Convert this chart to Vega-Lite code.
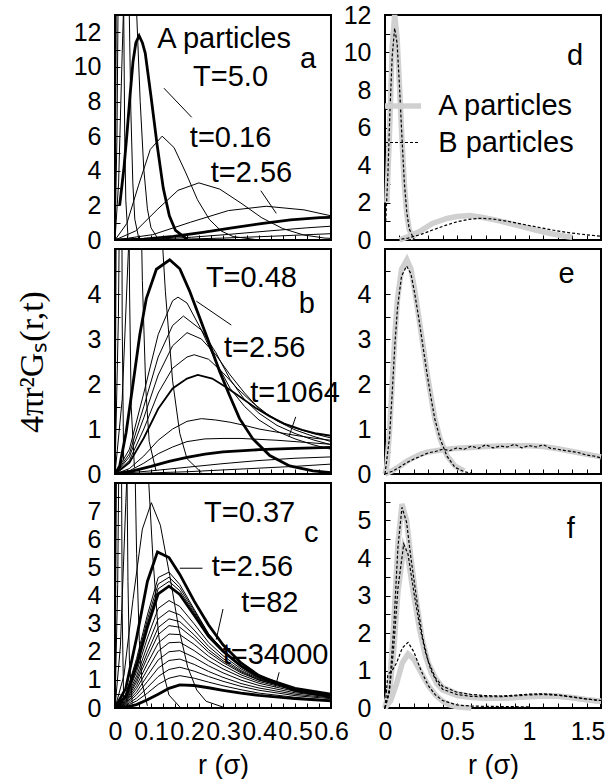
{
"$schema":"https://vega.github.io/schema/vega-lite/v6.json",
"background":"white",
"padding":{"left":14,"top":2,"right":2,"bottom":2},
"bounds":"flush",
"columns":2,
"spacing":{"row":9,"column":54},
"config":{
 "view":{"stroke":"black","strokeWidth":2},
 "font":"Liberation Sans",
 "axis":{"domain":false,"grid":false,"ticks":true,"tickColor":"black","tickSize":-5,"tickWidth":1,"labelFont":"Liberation Sans","labelFontSize":25,"labelColor":"black","labelOverlap":false,"labelFlush":false,"labelBound":false,"titleFont":"Liberation Sans","titleFontSize":27,"titleFontWeight":"normal","titleColor":"black"},
 "axisX":{"labelPadding":16},
 "axisY":{"labelPadding":19}
},
"datasets":{
"L":[
{"p":"a","c":"a1","k":"n","r":0,"y":0},{"p":"a","c":"a1","k":"n","r":0.003,"y":11},{"p":"a","c":"a1","k":"n","r":0.006,"y":36.5},{"p":"a","c":"a1","k":"n","r":0.009,"y":60.1},{"p":"a","c":"a1","k":"n","r":0.012,"y":69},{"p":"a","c":"a1","k":"n","r":0.015,"y":61.4},{"p":"a","c":"a1","k":"n","r":0.018,"y":44.5},{"p":"a","c":"a1","k":"n","r":0.021,"y":26.8},{"p":"a","c":"a1","k":"n","r":0.024,"y":13.7},{"p":"a","c":"a1","k":"n","r":0.027,"y":6},{"p":"a","c":"a1","k":"n","r":0.03,"y":2.3},{"p":"a","c":"a1","k":"n","r":0.036,"y":0.2},
{"p":"a","c":"a2","k":"n","r":0,"y":0},{"p":"a","c":"a2","k":"n","r":0.0055,"y":6},{"p":"a","c":"a2","k":"n","r":0.011,"y":19.9},{"p":"a","c":"a2","k":"n","r":0.0165,"y":32.8},{"p":"a","c":"a2","k":"n","r":0.022,"y":37.7},{"p":"a","c":"a2","k":"n","r":0.0275,"y":33.6},{"p":"a","c":"a2","k":"n","r":0.033,"y":24.3},{"p":"a","c":"a2","k":"n","r":0.0385,"y":14.7},{"p":"a","c":"a2","k":"n","r":0.044,"y":7.5},{"p":"a","c":"a2","k":"n","r":0.0495,"y":3.3},{"p":"a","c":"a2","k":"n","r":0.055,"y":1.2},{"p":"a","c":"a2","k":"n","r":0.066,"y":0.1},
{"p":"a","c":"a3","k":"n","r":0,"y":0},{"p":"a","c":"a3","k":"n","r":0.01,"y":3.3},{"p":"a","c":"a3","k":"n","r":0.02,"y":10.8},{"p":"a","c":"a3","k":"n","r":0.03,"y":17.9},{"p":"a","c":"a3","k":"n","r":0.04,"y":20.5},{"p":"a","c":"a3","k":"n","r":0.05,"y":18.2},{"p":"a","c":"a3","k":"n","r":0.06,"y":13.2},{"p":"a","c":"a3","k":"n","r":0.07,"y":8},{"p":"a","c":"a3","k":"n","r":0.08,"y":4.1},{"p":"a","c":"a3","k":"n","r":0.09,"y":1.8},{"p":"a","c":"a3","k":"n","r":0.1,"y":0.7},{"p":"a","c":"a3","k":"n","r":0.12,"y":0.06},
{"p":"a","c":"a4","k":"t","r":0.013,"y":2},{"p":"a","c":"a4","k":"t","r":0.025,"y":4.2},{"p":"a","c":"a4","k":"t","r":0.0335,"y":6.2},{"p":"a","c":"a4","k":"t","r":0.042,"y":8.4},{"p":"a","c":"a4","k":"t","r":0.05,"y":10.3},{"p":"a","c":"a4","k":"t","r":0.058,"y":11.4},{"p":"a","c":"a4","k":"t","r":0.067,"y":11.8},{"p":"a","c":"a4","k":"t","r":0.076,"y":11.4},{"p":"a","c":"a4","k":"t","r":0.084,"y":10.8},{"p":"a","c":"a4","k":"t","r":0.1,"y":8.3},{"p":"a","c":"a4","k":"t","r":0.117,"y":5.5},{"p":"a","c":"a4","k":"t","r":0.134,"y":3},{"p":"a","c":"a4","k":"t","r":0.151,"y":1.4},{"p":"a","c":"a4","k":"t","r":0.168,"y":0.55},{"p":"a","c":"a4","k":"t","r":0.2,"y":0.05},
{"p":"a","c":"a5","k":"n","r":0,"y":0},{"p":"a","c":"a5","k":"n","r":0.033,"y":0.96},{"p":"a","c":"a5","k":"n","r":0.0655,"y":3.17},{"p":"a","c":"a5","k":"n","r":0.098,"y":5.23},{"p":"a","c":"a5","k":"n","r":0.131,"y":6},{"p":"a","c":"a5","k":"n","r":0.164,"y":5.34},{"p":"a","c":"a5","k":"n","r":0.197,"y":3.87},{"p":"a","c":"a5","k":"n","r":0.229,"y":2.33},{"p":"a","c":"a5","k":"n","r":0.262,"y":1.19},{"p":"a","c":"a5","k":"n","r":0.295,"y":0.52},{"p":"a","c":"a5","k":"n","r":0.328,"y":0.2},{"p":"a","c":"a5","k":"n","r":0.393,"y":0.02},
{"p":"a","c":"a6","k":"n","r":0,"y":0},{"p":"a","c":"a6","k":"n","r":0.058,"y":0.53},{"p":"a","c":"a6","k":"n","r":0.117,"y":1.75},{"p":"a","c":"a6","k":"n","r":0.175,"y":2.87},{"p":"a","c":"a6","k":"n","r":0.233,"y":3.3},{"p":"a","c":"a6","k":"n","r":0.291,"y":2.94},{"p":"a","c":"a6","k":"n","r":0.35,"y":2.13},{"p":"a","c":"a6","k":"n","r":0.408,"y":1.28},{"p":"a","c":"a6","k":"n","r":0.466,"y":0.66},{"p":"a","c":"a6","k":"n","r":0.524,"y":0.29},{"p":"a","c":"a6","k":"n","r":0.583,"y":0.11},{"p":"a","c":"a6","k":"n","r":0.7,"y":0.01},
{"p":"a","c":"a7","k":"n","r":0,"y":0},{"p":"a","c":"a7","k":"n","r":0.105,"y":0.31},{"p":"a","c":"a7","k":"n","r":0.21,"y":1.03},{"p":"a","c":"a7","k":"n","r":0.315,"y":1.7},{"p":"a","c":"a7","k":"n","r":0.42,"y":1.95},{"p":"a","c":"a7","k":"n","r":0.525,"y":1.74},{"p":"a","c":"a7","k":"n","r":0.63,"y":1.26},
{"p":"a","c":"a8","k":"t","r":0,"y":0},{"p":"a","c":"a8","k":"t","r":0.08,"y":0.056},{"p":"a","c":"a8","k":"t","r":0.1625,"y":0.21},{"p":"a","c":"a8","k":"t","r":0.244,"y":0.44},{"p":"a","c":"a8","k":"t","r":0.325,"y":0.7},{"p":"a","c":"a8","k":"t","r":0.406,"y":0.95},{"p":"a","c":"a8","k":"t","r":0.4875,"y":1.16},{"p":"a","c":"a8","k":"t","r":0.569,"y":1.29},{"p":"a","c":"a8","k":"t","r":0.65,"y":1.33},
{"p":"a","c":"a9","k":"n","r":0,"y":0},{"p":"a","c":"a9","k":"n","r":0.106,"y":0.04},{"p":"a","c":"a9","k":"n","r":0.2125,"y":0.16},{"p":"a","c":"a9","k":"n","r":0.319,"y":0.33},{"p":"a","c":"a9","k":"n","r":0.425,"y":0.52},{"p":"a","c":"a9","k":"n","r":0.531,"y":0.7},{"p":"a","c":"a9","k":"n","r":0.6375,"y":0.85},
{"p":"a","c":"a10","k":"n","r":0,"y":0},{"p":"a","c":"a10","k":"n","r":0.15,"y":0.03},{"p":"a","c":"a10","k":"n","r":0.3,"y":0.11},{"p":"a","c":"a10","k":"n","r":0.45,"y":0.23},{"p":"a","c":"a10","k":"n","r":0.6,"y":0.365},{"p":"a","c":"a10","k":"n","r":0.75,"y":0.5},

{"p":"b","c":"b1","k":"n","r":0,"y":0},{"p":"b","c":"b1","k":"n","r":0.002,"y":16.6},{"p":"b","c":"b1","k":"n","r":0.004,"y":55},{"p":"b","c":"b1","k":"n","r":0.006,"y":90.6},{"p":"b","c":"b1","k":"n","r":0.008,"y":104},{"p":"b","c":"b1","k":"n","r":0.01,"y":92.6},{"p":"b","c":"b1","k":"n","r":0.012,"y":67.1},{"p":"b","c":"b1","k":"n","r":0.014,"y":40.5},{"p":"b","c":"b1","k":"n","r":0.016,"y":20.7},{"p":"b","c":"b1","k":"n","r":0.018,"y":9},{"p":"b","c":"b1","k":"n","r":0.02,"y":3.4},{"p":"b","c":"b1","k":"n","r":0.024,"y":0.3},
{"p":"b","c":"b2","k":"n","r":0,"y":0},{"p":"b","c":"b2","k":"n","r":0.0045,"y":7.4},{"p":"b","c":"b2","k":"n","r":0.009,"y":24.3},{"p":"b","c":"b2","k":"n","r":0.0135,"y":40.1},{"p":"b","c":"b2","k":"n","r":0.018,"y":46},{"p":"b","c":"b2","k":"n","r":0.0225,"y":40.9},{"p":"b","c":"b2","k":"n","r":0.027,"y":29.7},{"p":"b","c":"b2","k":"n","r":0.0315,"y":17.9},{"p":"b","c":"b2","k":"n","r":0.036,"y":9.2},{"p":"b","c":"b2","k":"n","r":0.0405,"y":4},{"p":"b","c":"b2","k":"n","r":0.045,"y":1.5},{"p":"b","c":"b2","k":"n","r":0.054,"y":0.14},
{"p":"b","c":"b3","k":"n","r":0,"y":0},{"p":"b","c":"b3","k":"n","r":0.0095,"y":3.5},{"p":"b","c":"b3","k":"n","r":0.019,"y":11.5},{"p":"b","c":"b3","k":"n","r":0.0285,"y":19},{"p":"b","c":"b3","k":"n","r":0.038,"y":21.8},{"p":"b","c":"b3","k":"n","r":0.0475,"y":19.4},{"p":"b","c":"b3","k":"n","r":0.057,"y":14.1},{"p":"b","c":"b3","k":"n","r":0.0665,"y":8.5},{"p":"b","c":"b3","k":"n","r":0.076,"y":4.3},{"p":"b","c":"b3","k":"n","r":0.0855,"y":1.9},{"p":"b","c":"b3","k":"n","r":0.095,"y":0.72},{"p":"b","c":"b3","k":"n","r":0.114,"y":0.07},
{"p":"b","c":"b4","k":"n","r":0,"y":0},{"p":"b","c":"b4","k":"n","r":0.02,"y":1.66},{"p":"b","c":"b4","k":"n","r":0.04,"y":5.5},{"p":"b","c":"b4","k":"n","r":0.06,"y":9.06},{"p":"b","c":"b4","k":"n","r":0.08,"y":10.4},{"p":"b","c":"b4","k":"n","r":0.1,"y":9.26},{"p":"b","c":"b4","k":"n","r":0.12,"y":6.71},{"p":"b","c":"b4","k":"n","r":0.14,"y":4.05},{"p":"b","c":"b4","k":"n","r":0.16,"y":2.07},{"p":"b","c":"b4","k":"n","r":0.18,"y":0.9},{"p":"b","c":"b4","k":"n","r":0.2,"y":0.34},{"p":"b","c":"b4","k":"n","r":0.24,"y":0.03},
{"p":"b","c":"bT1","k":"t","r":0,"y":0},{"p":"b","c":"bT1","k":"t","r":0.013,"y":0.18},{"p":"b","c":"bT1","k":"t","r":0.031,"y":0.93},{"p":"b","c":"bT1","k":"t","r":0.05,"y":2},{"p":"b","c":"bT1","k":"t","r":0.069,"y":3.1},{"p":"b","c":"bT1","k":"t","r":0.087,"y":3.9},{"p":"b","c":"bT1","k":"t","r":0.115,"y":4.55},{"p":"b","c":"bT1","k":"t","r":0.152,"y":4.76},{"p":"b","c":"bT1","k":"t","r":0.18,"y":4.56},{"p":"b","c":"bT1","k":"t","r":0.207,"y":4.07},{"p":"b","c":"bT1","k":"t","r":0.235,"y":3.48},{"p":"b","c":"bT1","k":"t","r":0.263,"y":2.88},{"p":"b","c":"bT1","k":"t","r":0.291,"y":2.27},{"p":"b","c":"bT1","k":"t","r":0.318,"y":1.75},{"p":"b","c":"bT1","k":"t","r":0.346,"y":1.23},{"p":"b","c":"bT1","k":"t","r":0.383,"y":0.78},{"p":"b","c":"bT1","k":"t","r":0.43,"y":0.41},{"p":"b","c":"bT1","k":"t","r":0.485,"y":0.18},{"p":"b","c":"bT1","k":"t","r":0.55,"y":0.07},{"p":"b","c":"bT1","k":"t","r":0.6,"y":0.03},
{"p":"b","c":"b5","k":"n","r":0,"y":0},{"p":"b","c":"b5","k":"n","r":0.04,"y":0.55},{"p":"b","c":"b5","k":"n","r":0.08,"y":1.8},{"p":"b","c":"b5","k":"n","r":0.12,"y":3.1},{"p":"b","c":"b5","k":"n","r":0.16,"y":3.85},{"p":"b","c":"b5","k":"n","r":0.175,"y":3.93},{"p":"b","c":"b5","k":"n","r":0.2,"y":3.8},{"p":"b","c":"b5","k":"n","r":0.24,"y":3.2},{"p":"b","c":"b5","k":"n","r":0.28,"y":2.5},{"p":"b","c":"b5","k":"n","r":0.32,"y":1.9},{"p":"b","c":"b5","k":"n","r":0.36,"y":1.5},{"p":"b","c":"b5","k":"n","r":0.4,"y":1.2},{"p":"b","c":"b5","k":"n","r":0.45,"y":0.95},{"p":"b","c":"b5","k":"n","r":0.5,"y":0.78},{"p":"b","c":"b5","k":"n","r":0.55,"y":0.65},{"p":"b","c":"b5","k":"n","r":0.6,"y":0.55},
{"p":"b","c":"b6","k":"n","r":0,"y":0},{"p":"b","c":"b6","k":"n","r":0.04,"y":0.45},{"p":"b","c":"b6","k":"n","r":0.08,"y":1.5},{"p":"b","c":"b6","k":"n","r":0.12,"y":2.6},{"p":"b","c":"b6","k":"n","r":0.16,"y":3.3},{"p":"b","c":"b6","k":"n","r":0.19,"y":3.51},{"p":"b","c":"b6","k":"n","r":0.24,"y":3.2},{"p":"b","c":"b6","k":"n","r":0.28,"y":2.7},{"p":"b","c":"b6","k":"n","r":0.32,"y":2.1},{"p":"b","c":"b6","k":"n","r":0.36,"y":1.65},{"p":"b","c":"b6","k":"n","r":0.4,"y":1.35},{"p":"b","c":"b6","k":"n","r":0.45,"y":1.08},{"p":"b","c":"b6","k":"n","r":0.5,"y":0.9},{"p":"b","c":"b6","k":"n","r":0.55,"y":0.76},{"p":"b","c":"b6","k":"n","r":0.6,"y":0.65},
{"p":"b","c":"b7","k":"n","r":0,"y":0},{"p":"b","c":"b7","k":"n","r":0.04,"y":0.38},{"p":"b","c":"b7","k":"n","r":0.08,"y":1.25},{"p":"b","c":"b7","k":"n","r":0.12,"y":2.2},{"p":"b","c":"b7","k":"n","r":0.16,"y":2.85},{"p":"b","c":"b7","k":"n","r":0.2,"y":3.14},{"p":"b","c":"b7","k":"n","r":0.24,"y":3},{"p":"b","c":"b7","k":"n","r":0.28,"y":2.65},{"p":"b","c":"b7","k":"n","r":0.32,"y":2.2},{"p":"b","c":"b7","k":"n","r":0.36,"y":1.8},{"p":"b","c":"b7","k":"n","r":0.4,"y":1.45},{"p":"b","c":"b7","k":"n","r":0.45,"y":1.18},{"p":"b","c":"b7","k":"n","r":0.5,"y":0.98},{"p":"b","c":"b7","k":"n","r":0.55,"y":0.84},{"p":"b","c":"b7","k":"n","r":0.6,"y":0.72},
{"p":"b","c":"b8","k":"n","r":0,"y":0},{"p":"b","c":"b8","k":"n","r":0.04,"y":0.3},{"p":"b","c":"b8","k":"n","r":0.08,"y":1},{"p":"b","c":"b8","k":"n","r":0.12,"y":1.8},{"p":"b","c":"b8","k":"n","r":0.16,"y":2.35},{"p":"b","c":"b8","k":"n","r":0.2,"y":2.6},{"p":"b","c":"b8","k":"n","r":0.22,"y":2.65},{"p":"b","c":"b8","k":"n","r":0.26,"y":2.55},{"p":"b","c":"b8","k":"n","r":0.3,"y":2.25},{"p":"b","c":"b8","k":"n","r":0.34,"y":1.9},{"p":"b","c":"b8","k":"n","r":0.38,"y":1.6},{"p":"b","c":"b8","k":"n","r":0.42,"y":1.35},{"p":"b","c":"b8","k":"n","r":0.46,"y":1.15},{"p":"b","c":"b8","k":"n","r":0.5,"y":1.02},{"p":"b","c":"b8","k":"n","r":0.55,"y":0.9},{"p":"b","c":"b8","k":"n","r":0.6,"y":0.8},
{"p":"b","c":"b9","k":"m","r":0,"y":0},{"p":"b","c":"b9","k":"m","r":0.04,"y":0.25},{"p":"b","c":"b9","k":"m","r":0.08,"y":0.8},{"p":"b","c":"b9","k":"m","r":0.12,"y":1.45},{"p":"b","c":"b9","k":"m","r":0.16,"y":1.9},{"p":"b","c":"b9","k":"m","r":0.2,"y":2.12},{"p":"b","c":"b9","k":"m","r":0.23,"y":2.2},{"p":"b","c":"b9","k":"m","r":0.27,"y":2.12},{"p":"b","c":"b9","k":"m","r":0.31,"y":1.92},{"p":"b","c":"b9","k":"m","r":0.35,"y":1.7},{"p":"b","c":"b9","k":"m","r":0.39,"y":1.47},{"p":"b","c":"b9","k":"m","r":0.43,"y":1.28},{"p":"b","c":"b9","k":"m","r":0.47,"y":1.12},{"p":"b","c":"b9","k":"m","r":0.52,"y":0.98},{"p":"b","c":"b9","k":"m","r":0.56,"y":0.9},{"p":"b","c":"b9","k":"m","r":0.6,"y":0.85},
{"p":"b","c":"b10","k":"n","r":0,"y":0},{"p":"b","c":"b10","k":"n","r":0.04,"y":0.12},{"p":"b","c":"b10","k":"n","r":0.08,"y":0.4},{"p":"b","c":"b10","k":"n","r":0.12,"y":0.75},{"p":"b","c":"b10","k":"n","r":0.16,"y":1},{"p":"b","c":"b10","k":"n","r":0.2,"y":1.17},{"p":"b","c":"b10","k":"n","r":0.24,"y":1.23},{"p":"b","c":"b10","k":"n","r":0.28,"y":1.2},{"p":"b","c":"b10","k":"n","r":0.32,"y":1.15},{"p":"b","c":"b10","k":"n","r":0.36,"y":1.08},{"p":"b","c":"b10","k":"n","r":0.4,"y":1},{"p":"b","c":"b10","k":"n","r":0.45,"y":0.93},{"p":"b","c":"b10","k":"n","r":0.5,"y":0.86},{"p":"b","c":"b10","k":"n","r":0.55,"y":0.8},{"p":"b","c":"b10","k":"n","r":0.6,"y":0.75},
{"p":"b","c":"b11","k":"n","r":0,"y":0},{"p":"b","c":"b11","k":"n","r":0.04,"y":0.07},{"p":"b","c":"b11","k":"n","r":0.08,"y":0.24},{"p":"b","c":"b11","k":"n","r":0.12,"y":0.45},{"p":"b","c":"b11","k":"n","r":0.16,"y":0.6},{"p":"b","c":"b11","k":"n","r":0.2,"y":0.72},{"p":"b","c":"b11","k":"n","r":0.25,"y":0.78},{"p":"b","c":"b11","k":"n","r":0.3,"y":0.79},{"p":"b","c":"b11","k":"n","r":0.35,"y":0.79},{"p":"b","c":"b11","k":"n","r":0.4,"y":0.77},{"p":"b","c":"b11","k":"n","r":0.45,"y":0.75},{"p":"b","c":"b11","k":"n","r":0.5,"y":0.72},{"p":"b","c":"b11","k":"n","r":0.55,"y":0.69},{"p":"b","c":"b11","k":"n","r":0.6,"y":0.66},
{"p":"b","c":"bT2","k":"t","r":0,"y":0},{"p":"b","c":"bT2","k":"t","r":0.05,"y":0.07},{"p":"b","c":"bT2","k":"t","r":0.1,"y":0.17},{"p":"b","c":"bT2","k":"t","r":0.15,"y":0.28},{"p":"b","c":"bT2","k":"t","r":0.2,"y":0.37},{"p":"b","c":"bT2","k":"t","r":0.25,"y":0.44},{"p":"b","c":"bT2","k":"t","r":0.3,"y":0.49},{"p":"b","c":"bT2","k":"t","r":0.4,"y":0.54},{"p":"b","c":"bT2","k":"t","r":0.5,"y":0.57},{"p":"b","c":"bT2","k":"t","r":0.6,"y":0.59},
{"p":"b","c":"b12","k":"n","r":0,"y":0},{"p":"b","c":"b12","k":"n","r":0.1,"y":0.07},{"p":"b","c":"b12","k":"n","r":0.2,"y":0.15},{"p":"b","c":"b12","k":"n","r":0.3,"y":0.23},{"p":"b","c":"b12","k":"n","r":0.4,"y":0.3},{"p":"b","c":"b12","k":"n","r":0.5,"y":0.35},{"p":"b","c":"b12","k":"n","r":0.6,"y":0.38},
{"p":"b","c":"b13","k":"n","r":0,"y":0},{"p":"b","c":"b13","k":"n","r":0.2,"y":0.05},{"p":"b","c":"b13","k":"n","r":0.3,"y":0.09},{"p":"b","c":"b13","k":"n","r":0.4,"y":0.13},{"p":"b","c":"b13","k":"n","r":0.5,"y":0.17},{"p":"b","c":"b13","k":"n","r":0.6,"y":0.22},

{"p":"c","c":"c1","k":"n","r":0,"y":0},{"p":"c","c":"c1","k":"n","r":0.002,"y":16.6},{"p":"c","c":"c1","k":"n","r":0.004,"y":55},{"p":"c","c":"c1","k":"n","r":0.006,"y":90.6},{"p":"c","c":"c1","k":"n","r":0.008,"y":104},{"p":"c","c":"c1","k":"n","r":0.01,"y":92.6},{"p":"c","c":"c1","k":"n","r":0.012,"y":67.1},{"p":"c","c":"c1","k":"n","r":0.014,"y":40.5},{"p":"c","c":"c1","k":"n","r":0.016,"y":20.7},{"p":"c","c":"c1","k":"n","r":0.018,"y":9},{"p":"c","c":"c1","k":"n","r":0.02,"y":3.4},{"p":"c","c":"c1","k":"n","r":0.024,"y":0.3},
{"p":"c","c":"c2","k":"n","r":0,"y":0},{"p":"c","c":"c2","k":"n","r":0.004,"y":8.3},{"p":"c","c":"c2","k":"n","r":0.008,"y":27.5},{"p":"c","c":"c2","k":"n","r":0.012,"y":45.3},{"p":"c","c":"c2","k":"n","r":0.016,"y":52},{"p":"c","c":"c2","k":"n","r":0.02,"y":46.3},{"p":"c","c":"c2","k":"n","r":0.024,"y":33.5},{"p":"c","c":"c2","k":"n","r":0.028,"y":20.2},{"p":"c","c":"c2","k":"n","r":0.032,"y":10.3},{"p":"c","c":"c2","k":"n","r":0.036,"y":4.5},{"p":"c","c":"c2","k":"n","r":0.04,"y":1.7},{"p":"c","c":"c2","k":"n","r":0.048,"y":0.16},
{"p":"c","c":"c3","k":"n","r":0,"y":0},{"p":"c","c":"c3","k":"n","r":0.0075,"y":4.4},{"p":"c","c":"c3","k":"n","r":0.015,"y":14.7},{"p":"c","c":"c3","k":"n","r":0.0225,"y":24.1},{"p":"c","c":"c3","k":"n","r":0.03,"y":27.7},{"p":"c","c":"c3","k":"n","r":0.0375,"y":24.7},{"p":"c","c":"c3","k":"n","r":0.045,"y":17.9},{"p":"c","c":"c3","k":"n","r":0.0525,"y":10.8},{"p":"c","c":"c3","k":"n","r":0.06,"y":5.5},{"p":"c","c":"c3","k":"n","r":0.0675,"y":2.4},{"p":"c","c":"c3","k":"n","r":0.075,"y":0.91},{"p":"c","c":"c3","k":"n","r":0.09,"y":0.08},
{"p":"c","c":"c4","k":"n","r":0,"y":0},{"p":"c","c":"c4","k":"n","r":0.015,"y":2.2},{"p":"c","c":"c4","k":"n","r":0.03,"y":7.3},{"p":"c","c":"c4","k":"n","r":0.045,"y":12},{"p":"c","c":"c4","k":"n","r":0.06,"y":13.8},{"p":"c","c":"c4","k":"n","r":0.075,"y":12.3},{"p":"c","c":"c4","k":"n","r":0.09,"y":8.9},{"p":"c","c":"c4","k":"n","r":0.105,"y":5.4},{"p":"c","c":"c4","k":"n","r":0.12,"y":2.75},{"p":"c","c":"c4","k":"n","r":0.135,"y":1.2},{"p":"c","c":"c4","k":"n","r":0.15,"y":0.46},{"p":"c","c":"c4","k":"n","r":0.18,"y":0.04},
{"p":"c","c":"c5","k":"n","r":0,"y":0},{"p":"c","c":"c5","k":"n","r":0.025,"y":1.17},{"p":"c","c":"c5","k":"n","r":0.05,"y":3.86},{"p":"c","c":"c5","k":"n","r":0.076,"y":6.36},{"p":"c","c":"c5","k":"n","r":0.101,"y":7.3},{"p":"c","c":"c5","k":"n","r":0.126,"y":6.5},{"p":"c","c":"c5","k":"n","r":0.152,"y":4.71},{"p":"c","c":"c5","k":"n","r":0.177,"y":2.84},{"p":"c","c":"c5","k":"n","r":0.202,"y":1.45},{"p":"c","c":"c5","k":"n","r":0.227,"y":0.64},{"p":"c","c":"c5","k":"n","r":0.253,"y":0.24},{"p":"c","c":"c5","k":"n","r":0.303,"y":0.02},
{"p":"c","c":"cT1","k":"t","r":0,"y":0},{"p":"c","c":"cT1","k":"t","r":0.03,"y":0.7},{"p":"c","c":"cT1","k":"t","r":0.06,"y":2.5},{"p":"c","c":"cT1","k":"t","r":0.09,"y":4.5},{"p":"c","c":"cT1","k":"t","r":0.118,"y":5.55},{"p":"c","c":"cT1","k":"t","r":0.15,"y":5.35},{"p":"c","c":"cT1","k":"t","r":0.18,"y":4.75},{"p":"c","c":"cT1","k":"t","r":0.22,"y":3.8},{"p":"c","c":"cT1","k":"t","r":0.26,"y":2.95},{"p":"c","c":"cT1","k":"t","r":0.3,"y":2.25},{"p":"c","c":"cT1","k":"t","r":0.35,"y":1.6},{"p":"c","c":"cT1","k":"t","r":0.4,"y":1.15},{"p":"c","c":"cT1","k":"t","r":0.5,"y":0.62},{"p":"c","c":"cT1","k":"t","r":0.6,"y":0.4},
{"p":"c","c":"cb1","k":"n","r":0,"y":0},{"p":"c","c":"cb1","k":"n","r":0.03,"y":0.49},{"p":"c","c":"cb1","k":"n","r":0.06,"y":1.76},{"p":"c","c":"cb1","k":"n","r":0.09,"y":3.31},{"p":"c","c":"cb1","k":"n","r":0.12,"y":4.64},{"p":"c","c":"cb1","k":"n","r":0.15,"y":4.83},{"p":"c","c":"cb1","k":"n","r":0.18,"y":4.39},{"p":"c","c":"cb1","k":"n","r":0.22,"y":3.51},{"p":"c","c":"cb1","k":"n","r":0.26,"y":2.64},{"p":"c","c":"cb1","k":"n","r":0.3,"y":2.05},{"p":"c","c":"cb1","k":"n","r":0.35,"y":1.46},{"p":"c","c":"cb1","k":"n","r":0.4,"y":1.07},{"p":"c","c":"cb1","k":"n","r":0.5,"y":0.64},{"p":"c","c":"cb1","k":"n","r":0.6,"y":0.43},
{"p":"c","c":"cb2","k":"n","r":0,"y":0},{"p":"c","c":"cb2","k":"n","r":0.03,"y":0.46},{"p":"c","c":"cb2","k":"n","r":0.06,"y":1.65},{"p":"c","c":"cb2","k":"n","r":0.09,"y":3.14},{"p":"c","c":"cb2","k":"n","r":0.12,"y":4.41},{"p":"c","c":"cb2","k":"n","r":0.15,"y":4.65},{"p":"c","c":"cb2","k":"n","r":0.18,"y":4.28},{"p":"c","c":"cb2","k":"n","r":0.22,"y":3.46},{"p":"c","c":"cb2","k":"n","r":0.26,"y":2.63},{"p":"c","c":"cb2","k":"n","r":0.3,"y":2.07},{"p":"c","c":"cb2","k":"n","r":0.35,"y":1.5},{"p":"c","c":"cb2","k":"n","r":0.4,"y":1.12},{"p":"c","c":"cb2","k":"n","r":0.5,"y":0.68},{"p":"c","c":"cb2","k":"n","r":0.6,"y":0.48},
{"p":"c","c":"cb3","k":"n","r":0,"y":0},{"p":"c","c":"cb3","k":"n","r":0.03,"y":0.44},{"p":"c","c":"cb3","k":"n","r":0.06,"y":1.58},{"p":"c","c":"cb3","k":"n","r":0.09,"y":3},{"p":"c","c":"cb3","k":"n","r":0.12,"y":4.24},{"p":"c","c":"cb3","k":"n","r":0.15,"y":4.5},{"p":"c","c":"cb3","k":"n","r":0.18,"y":4.17},{"p":"c","c":"cb3","k":"n","r":0.22,"y":3.4},{"p":"c","c":"cb3","k":"n","r":0.26,"y":2.61},{"p":"c","c":"cb3","k":"n","r":0.3,"y":2.06},{"p":"c","c":"cb3","k":"n","r":0.35,"y":1.51},{"p":"c","c":"cb3","k":"n","r":0.4,"y":1.13},{"p":"c","c":"cb3","k":"n","r":0.5,"y":0.7},{"p":"c","c":"cb3","k":"n","r":0.6,"y":0.49},
{"p":"c","c":"cbT","k":"t","r":0,"y":0},{"p":"c","c":"cbT","k":"t","r":0.03,"y":0.42},{"p":"c","c":"cbT","k":"t","r":0.06,"y":1.5},{"p":"c","c":"cbT","k":"t","r":0.09,"y":2.87},{"p":"c","c":"cbT","k":"t","r":0.12,"y":4.06},{"p":"c","c":"cbT","k":"t","r":0.15,"y":4.33},{"p":"c","c":"cbT","k":"t","r":0.18,"y":4.04},{"p":"c","c":"cbT","k":"t","r":0.22,"y":3.3},{"p":"c","c":"cbT","k":"t","r":0.26,"y":2.55},{"p":"c","c":"cbT","k":"t","r":0.3,"y":2.02},{"p":"c","c":"cbT","k":"t","r":0.35,"y":1.49},{"p":"c","c":"cbT","k":"t","r":0.4,"y":1.12},{"p":"c","c":"cbT","k":"t","r":0.5,"y":0.7},{"p":"c","c":"cbT","k":"t","r":0.6,"y":0.49},
{"p":"c","c":"cb5","k":"n","r":0,"y":0},{"p":"c","c":"cb5","k":"n","r":0.03,"y":0.36},{"p":"c","c":"cb5","k":"n","r":0.06,"y":1.29},{"p":"c","c":"cb5","k":"n","r":0.09,"y":2.49},{"p":"c","c":"cb5","k":"n","r":0.12,"y":3.54},{"p":"c","c":"cb5","k":"n","r":0.15,"y":3.82},{"p":"c","c":"cb5","k":"n","r":0.18,"y":3.61},{"p":"c","c":"cb5","k":"n","r":0.22,"y":2.99},{"p":"c","c":"cb5","k":"n","r":0.26,"y":2.33},{"p":"c","c":"cb5","k":"n","r":0.3,"y":1.86},{"p":"c","c":"cb5","k":"n","r":0.35,"y":1.39},{"p":"c","c":"cb5","k":"n","r":0.4,"y":1.06},{"p":"c","c":"cb5","k":"n","r":0.5,"y":0.67},{"p":"c","c":"cb5","k":"n","r":0.6,"y":0.48},
{"p":"c","c":"cb6","k":"n","r":0,"y":0},{"p":"c","c":"cb6","k":"n","r":0.03,"y":0.32},{"p":"c","c":"cb6","k":"n","r":0.06,"y":1.14},{"p":"c","c":"cb6","k":"n","r":0.09,"y":2.21},{"p":"c","c":"cb6","k":"n","r":0.12,"y":3.17},{"p":"c","c":"cb6","k":"n","r":0.15,"y":3.46},{"p":"c","c":"cb6","k":"n","r":0.18,"y":3.31},{"p":"c","c":"cb6","k":"n","r":0.22,"y":2.77},{"p":"c","c":"cb6","k":"n","r":0.26,"y":2.19},{"p":"c","c":"cb6","k":"n","r":0.3,"y":1.76},{"p":"c","c":"cb6","k":"n","r":0.35,"y":1.33},{"p":"c","c":"cb6","k":"n","r":0.4,"y":1.03},{"p":"c","c":"cb6","k":"n","r":0.5,"y":0.66},{"p":"c","c":"cb6","k":"n","r":0.6,"y":0.47},
{"p":"c","c":"cb7","k":"n","r":0,"y":0},{"p":"c","c":"cb7","k":"n","r":0.03,"y":0.28},{"p":"c","c":"cb7","k":"n","r":0.06,"y":1.02},{"p":"c","c":"cb7","k":"n","r":0.09,"y":1.98},{"p":"c","c":"cb7","k":"n","r":0.12,"y":2.86},{"p":"c","c":"cb7","k":"n","r":0.15,"y":3.17},{"p":"c","c":"cb7","k":"n","r":0.18,"y":3.07},{"p":"c","c":"cb7","k":"n","r":0.22,"y":2.6},{"p":"c","c":"cb7","k":"n","r":0.26,"y":2.07},{"p":"c","c":"cb7","k":"n","r":0.3,"y":1.68},{"p":"c","c":"cb7","k":"n","r":0.35,"y":1.29},{"p":"c","c":"cb7","k":"n","r":0.4,"y":1},{"p":"c","c":"cb7","k":"n","r":0.5,"y":0.66},{"p":"c","c":"cb7","k":"n","r":0.6,"y":0.47},
{"p":"c","c":"cb8","k":"n","r":0,"y":0},{"p":"c","c":"cb8","k":"n","r":0.03,"y":0.25},{"p":"c","c":"cb8","k":"n","r":0.06,"y":0.92},{"p":"c","c":"cb8","k":"n","r":0.09,"y":1.8},{"p":"c","c":"cb8","k":"n","r":0.12,"y":2.61},{"p":"c","c":"cb8","k":"n","r":0.15,"y":2.93},{"p":"c","c":"cb8","k":"n","r":0.18,"y":2.87},{"p":"c","c":"cb8","k":"n","r":0.22,"y":2.46},{"p":"c","c":"cb8","k":"n","r":0.26,"y":1.98},{"p":"c","c":"cb8","k":"n","r":0.3,"y":1.62},{"p":"c","c":"cb8","k":"n","r":0.35,"y":1.25},{"p":"c","c":"cb8","k":"n","r":0.4,"y":0.99},{"p":"c","c":"cb8","k":"n","r":0.5,"y":0.65},{"p":"c","c":"cb8","k":"n","r":0.6,"y":0.47},
{"p":"c","c":"cb9","k":"n","r":0,"y":0},{"p":"c","c":"cb9","k":"n","r":0.03,"y":0.22},{"p":"c","c":"cb9","k":"n","r":0.06,"y":0.8},{"p":"c","c":"cb9","k":"n","r":0.09,"y":1.58},{"p":"c","c":"cb9","k":"n","r":0.12,"y":2.31},{"p":"c","c":"cb9","k":"n","r":0.15,"y":2.63},{"p":"c","c":"cb9","k":"n","r":0.18,"y":2.61},{"p":"c","c":"cb9","k":"n","r":0.22,"y":2.26},{"p":"c","c":"cb9","k":"n","r":0.26,"y":1.84},{"p":"c","c":"cb9","k":"n","r":0.3,"y":1.52},{"p":"c","c":"cb9","k":"n","r":0.35,"y":1.18},{"p":"c","c":"cb9","k":"n","r":0.4,"y":0.94},{"p":"c","c":"cb9","k":"n","r":0.5,"y":0.63},{"p":"c","c":"cb9","k":"n","r":0.6,"y":0.46},
{"p":"c","c":"cb10","k":"n","r":0,"y":0},{"p":"c","c":"cb10","k":"n","r":0.03,"y":0.19},{"p":"c","c":"cb10","k":"n","r":0.06,"y":0.69},{"p":"c","c":"cb10","k":"n","r":0.09,"y":1.36},{"p":"c","c":"cb10","k":"n","r":0.12,"y":2.02},{"p":"c","c":"cb10","k":"n","r":0.15,"y":2.32},{"p":"c","c":"cb10","k":"n","r":0.18,"y":2.34},{"p":"c","c":"cb10","k":"n","r":0.22,"y":2.04},{"p":"c","c":"cb10","k":"n","r":0.26,"y":1.68},{"p":"c","c":"cb10","k":"n","r":0.3,"y":1.39},{"p":"c","c":"cb10","k":"n","r":0.35,"y":1.1},{"p":"c","c":"cb10","k":"n","r":0.4,"y":0.88},{"p":"c","c":"cb10","k":"n","r":0.5,"y":0.59},{"p":"c","c":"cb10","k":"n","r":0.6,"y":0.43},
{"p":"c","c":"cb11","k":"n","r":0,"y":0},{"p":"c","c":"cb11","k":"n","r":0.03,"y":0.16},{"p":"c","c":"cb11","k":"n","r":0.06,"y":0.57},{"p":"c","c":"cb11","k":"n","r":0.09,"y":1.15},{"p":"c","c":"cb11","k":"n","r":0.12,"y":1.71},{"p":"c","c":"cb11","k":"n","r":0.15,"y":2},{"p":"c","c":"cb11","k":"n","r":0.18,"y":2.04},{"p":"c","c":"cb11","k":"n","r":0.22,"y":1.8},{"p":"c","c":"cb11","k":"n","r":0.26,"y":1.5},{"p":"c","c":"cb11","k":"n","r":0.3,"y":1.25},{"p":"c","c":"cb11","k":"n","r":0.35,"y":0.99},{"p":"c","c":"cb11","k":"n","r":0.4,"y":0.8},{"p":"c","c":"cb11","k":"n","r":0.5,"y":0.54},{"p":"c","c":"cb11","k":"n","r":0.6,"y":0.4},
{"p":"c","c":"cb12","k":"n","r":0,"y":0},{"p":"c","c":"cb12","k":"n","r":0.03,"y":0.13},{"p":"c","c":"cb12","k":"n","r":0.06,"y":0.47},{"p":"c","c":"cb12","k":"n","r":0.09,"y":0.94},{"p":"c","c":"cb12","k":"n","r":0.12,"y":1.42},{"p":"c","c":"cb12","k":"n","r":0.15,"y":1.69},{"p":"c","c":"cb12","k":"n","r":0.18,"y":1.74},{"p":"c","c":"cb12","k":"n","r":0.22,"y":1.55},{"p":"c","c":"cb12","k":"n","r":0.26,"y":1.3},{"p":"c","c":"cb12","k":"n","r":0.3,"y":1.09},{"p":"c","c":"cb12","k":"n","r":0.35,"y":0.87},{"p":"c","c":"cb12","k":"n","r":0.4,"y":0.71},{"p":"c","c":"cb12","k":"n","r":0.5,"y":0.49},{"p":"c","c":"cb12","k":"n","r":0.6,"y":0.36},
{"p":"c","c":"cb13","k":"n","r":0,"y":0},{"p":"c","c":"cb13","k":"n","r":0.03,"y":0.1},{"p":"c","c":"cb13","k":"n","r":0.06,"y":0.35},{"p":"c","c":"cb13","k":"n","r":0.09,"y":0.73},{"p":"c","c":"cb13","k":"n","r":0.12,"y":1.12},{"p":"c","c":"cb13","k":"n","r":0.15,"y":1.37},{"p":"c","c":"cb13","k":"n","r":0.18,"y":1.45},{"p":"c","c":"cb13","k":"n","r":0.22,"y":1.31},{"p":"c","c":"cb13","k":"n","r":0.26,"y":1.12},{"p":"c","c":"cb13","k":"n","r":0.3,"y":0.95},{"p":"c","c":"cb13","k":"n","r":0.35,"y":0.77},{"p":"c","c":"cb13","k":"n","r":0.4,"y":0.63},{"p":"c","c":"cb13","k":"n","r":0.5,"y":0.44},{"p":"c","c":"cb13","k":"n","r":0.6,"y":0.33},
{"p":"c","c":"cb14","k":"n","r":0,"y":0},{"p":"c","c":"cb14","k":"n","r":0.03,"y":0.07},{"p":"c","c":"cb14","k":"n","r":0.06,"y":0.25},{"p":"c","c":"cb14","k":"n","r":0.09,"y":0.53},{"p":"c","c":"cb14","k":"n","r":0.12,"y":0.84},{"p":"c","c":"cb14","k":"n","r":0.15,"y":1.06},{"p":"c","c":"cb14","k":"n","r":0.18,"y":1.15},{"p":"c","c":"cb14","k":"n","r":0.22,"y":1.06},{"p":"c","c":"cb14","k":"n","r":0.26,"y":0.92},{"p":"c","c":"cb14","k":"n","r":0.3,"y":0.79},{"p":"c","c":"cb14","k":"n","r":0.35,"y":0.65},{"p":"c","c":"cb14","k":"n","r":0.4,"y":0.53},{"p":"c","c":"cb14","k":"n","r":0.5,"y":0.38},{"p":"c","c":"cb14","k":"n","r":0.6,"y":0.28},
{"p":"c","c":"cbT2","k":"t","r":0,"y":0},{"p":"c","c":"cbT2","k":"t","r":0.03,"y":0.03},{"p":"c","c":"cbT2","k":"t","r":0.06,"y":0.12},{"p":"c","c":"cbT2","k":"t","r":0.09,"y":0.29},{"p":"c","c":"cbT2","k":"t","r":0.12,"y":0.49},{"p":"c","c":"cbT2","k":"t","r":0.15,"y":0.7},{"p":"c","c":"cbT2","k":"t","r":0.18,"y":0.82},{"p":"c","c":"cbT2","k":"t","r":0.22,"y":0.8},{"p":"c","c":"cbT2","k":"t","r":0.26,"y":0.72},{"p":"c","c":"cbT2","k":"t","r":0.3,"y":0.63},{"p":"c","c":"cbT2","k":"t","r":0.35,"y":0.53},{"p":"c","c":"cbT2","k":"t","r":0.4,"y":0.45},{"p":"c","c":"cbT2","k":"t","r":0.5,"y":0.33},{"p":"c","c":"cbT2","k":"t","r":0.6,"y":0.25}
],
"R":[
{"p":"d","c":"dA1","k":"A","r":0.013,"y":2},{"p":"d","c":"dA1","k":"A","r":0.0335,"y":6.2},{"p":"d","c":"dA1","k":"A","r":0.05,"y":10.3},{"p":"d","c":"dA1","k":"A","r":0.067,"y":12},{"p":"d","c":"dA1","k":"A","r":0.084,"y":10.8},{"p":"d","c":"dA1","k":"A","r":0.1,"y":8.3},{"p":"d","c":"dA1","k":"A","r":0.117,"y":5.5},{"p":"d","c":"dA1","k":"A","r":0.134,"y":3},{"p":"d","c":"dA1","k":"A","r":0.151,"y":1.4},{"p":"d","c":"dA1","k":"A","r":0.168,"y":0.55},{"p":"d","c":"dA1","k":"A","r":0.2,"y":0.05},
{"p":"d","c":"dA2","k":"A","r":0.1,"y":0},{"p":"d","c":"dA2","k":"A","r":0.16,"y":0.18},{"p":"d","c":"dA2","k":"A","r":0.25,"y":0.5},{"p":"d","c":"dA2","k":"A","r":0.33,"y":0.88},{"p":"d","c":"dA2","k":"A","r":0.43,"y":1.15},{"p":"d","c":"dA2","k":"A","r":0.5,"y":1.25},{"p":"d","c":"dA2","k":"A","r":0.59,"y":1.3},{"p":"d","c":"dA2","k":"A","r":0.68,"y":1.2},{"p":"d","c":"dA2","k":"A","r":0.78,"y":1.05},{"p":"d","c":"dA2","k":"A","r":0.87,"y":0.88},{"p":"d","c":"dA2","k":"A","r":0.96,"y":0.7},{"p":"d","c":"dA2","k":"A","r":1.05,"y":0.52},{"p":"d","c":"dA2","k":"A","r":1.15,"y":0.35},{"p":"d","c":"dA2","k":"A","r":1.25,"y":0.2},{"p":"d","c":"dA2","k":"A","r":1.3,"y":0.15},
{"p":"d","c":"dB1","k":"B","r":0.005,"y":1},{"p":"d","c":"dB1","k":"B","r":0.02,"y":3.5},{"p":"d","c":"dB1","k":"B","r":0.035,"y":7},{"p":"d","c":"dB1","k":"B","r":0.05,"y":9.8},{"p":"d","c":"dB1","k":"B","r":0.067,"y":11.3},{"p":"d","c":"dB1","k":"B","r":0.084,"y":10.5},{"p":"d","c":"dB1","k":"B","r":0.1,"y":8.3},{"p":"d","c":"dB1","k":"B","r":0.117,"y":5.6},{"p":"d","c":"dB1","k":"B","r":0.134,"y":3.1},{"p":"d","c":"dB1","k":"B","r":0.151,"y":1.5},{"p":"d","c":"dB1","k":"B","r":0.168,"y":0.6},{"p":"d","c":"dB1","k":"B","r":0.2,"y":0.05},
{"p":"d","c":"dB2","k":"B","r":0.08,"y":0},{"p":"d","c":"dB2","k":"B","r":0.16,"y":0.1},{"p":"d","c":"dB2","k":"B","r":0.25,"y":0.3},{"p":"d","c":"dB2","k":"B","r":0.33,"y":0.53},{"p":"d","c":"dB2","k":"B","r":0.42,"y":0.78},{"p":"d","c":"dB2","k":"B","r":0.5,"y":0.97},{"p":"d","c":"dB2","k":"B","r":0.58,"y":1.1},{"p":"d","c":"dB2","k":"B","r":0.66,"y":1.16},{"p":"d","c":"dB2","k":"B","r":0.75,"y":1.12},{"p":"d","c":"dB2","k":"B","r":0.85,"y":1},{"p":"d","c":"dB2","k":"B","r":0.95,"y":0.85},{"p":"d","c":"dB2","k":"B","r":1.05,"y":0.7},{"p":"d","c":"dB2","k":"B","r":1.15,"y":0.55},{"p":"d","c":"dB2","k":"B","r":1.25,"y":0.42},{"p":"d","c":"dB2","k":"B","r":1.35,"y":0.32},{"p":"d","c":"dB2","k":"B","r":1.45,"y":0.24},{"p":"d","c":"dB2","k":"B","r":1.5,"y":0.2},

{"p":"e","c":"eA1","k":"A","r":0,"y":0},{"p":"e","c":"eA1","k":"A","r":0.013,"y":0.18},{"p":"e","c":"eA1","k":"A","r":0.031,"y":0.93},{"p":"e","c":"eA1","k":"A","r":0.05,"y":2},{"p":"e","c":"eA1","k":"A","r":0.069,"y":3.1},{"p":"e","c":"eA1","k":"A","r":0.087,"y":3.9},{"p":"e","c":"eA1","k":"A","r":0.115,"y":4.55},{"p":"e","c":"eA1","k":"A","r":0.152,"y":4.76},{"p":"e","c":"eA1","k":"A","r":0.18,"y":4.56},{"p":"e","c":"eA1","k":"A","r":0.207,"y":4.07},{"p":"e","c":"eA1","k":"A","r":0.235,"y":3.48},{"p":"e","c":"eA1","k":"A","r":0.263,"y":2.88},{"p":"e","c":"eA1","k":"A","r":0.291,"y":2.27},{"p":"e","c":"eA1","k":"A","r":0.318,"y":1.75},{"p":"e","c":"eA1","k":"A","r":0.346,"y":1.23},{"p":"e","c":"eA1","k":"A","r":0.383,"y":0.78},{"p":"e","c":"eA1","k":"A","r":0.43,"y":0.41},{"p":"e","c":"eA1","k":"A","r":0.485,"y":0.18},{"p":"e","c":"eA1","k":"A","r":0.55,"y":0.07},
{"p":"e","c":"eA2","k":"A","r":0,"y":0},{"p":"e","c":"eA2","k":"A","r":0.05,"y":0.07},{"p":"e","c":"eA2","k":"A","r":0.1,"y":0.17},{"p":"e","c":"eA2","k":"A","r":0.15,"y":0.28},{"p":"e","c":"eA2","k":"A","r":0.2,"y":0.37},{"p":"e","c":"eA2","k":"A","r":0.25,"y":0.44},{"p":"e","c":"eA2","k":"A","r":0.3,"y":0.49},{"p":"e","c":"eA2","k":"A","r":0.4,"y":0.54},{"p":"e","c":"eA2","k":"A","r":0.5,"y":0.57},{"p":"e","c":"eA2","k":"A","r":0.6,"y":0.59},{"p":"e","c":"eA2","k":"A","r":0.7,"y":0.61},{"p":"e","c":"eA2","k":"A","r":0.8,"y":0.62},{"p":"e","c":"eA2","k":"A","r":0.9,"y":0.63},{"p":"e","c":"eA2","k":"A","r":1,"y":0.63},{"p":"e","c":"eA2","k":"A","r":1.1,"y":0.61},{"p":"e","c":"eA2","k":"A","r":1.2,"y":0.56},{"p":"e","c":"eA2","k":"A","r":1.3,"y":0.5},{"p":"e","c":"eA2","k":"A","r":1.4,"y":0.44},{"p":"e","c":"eA2","k":"A","r":1.5,"y":0.38},
{"p":"e","c":"eB1","k":"B","r":0,"y":0},{"p":"e","c":"eB1","k":"B","r":0.031,"y":0.8},{"p":"e","c":"eB1","k":"B","r":0.05,"y":1.8},{"p":"e","c":"eB1","k":"B","r":0.069,"y":2.9},{"p":"e","c":"eB1","k":"B","r":0.087,"y":3.7},{"p":"e","c":"eB1","k":"B","r":0.115,"y":4.4},{"p":"e","c":"eB1","k":"B","r":0.15,"y":4.62},{"p":"e","c":"eB1","k":"B","r":0.18,"y":4.45},{"p":"e","c":"eB1","k":"B","r":0.207,"y":4},{"p":"e","c":"eB1","k":"B","r":0.235,"y":3.45},{"p":"e","c":"eB1","k":"B","r":0.263,"y":2.85},{"p":"e","c":"eB1","k":"B","r":0.291,"y":2.25},{"p":"e","c":"eB1","k":"B","r":0.318,"y":1.72},{"p":"e","c":"eB1","k":"B","r":0.346,"y":1.22},{"p":"e","c":"eB1","k":"B","r":0.383,"y":0.78},{"p":"e","c":"eB1","k":"B","r":0.43,"y":0.4},{"p":"e","c":"eB1","k":"B","r":0.485,"y":0.15},{"p":"e","c":"eB1","k":"B","r":0.55,"y":0.05},{"p":"e","c":"eB1","k":"B","r":0.6,"y":0.02},
{"p":"e","c":"eB2","k":"B","r":0,"y":0},{"p":"e","c":"eB2","k":"B","r":0.05,"y":0.06},{"p":"e","c":"eB2","k":"B","r":0.1,"y":0.15},{"p":"e","c":"eB2","k":"B","r":0.15,"y":0.25},{"p":"e","c":"eB2","k":"B","r":0.2,"y":0.33},{"p":"e","c":"eB2","k":"B","r":0.25,"y":0.4},{"p":"e","c":"eB2","k":"B","r":0.3,"y":0.47},{"p":"e","c":"eB2","k":"B","r":0.35,"y":0.5},{"p":"e","c":"eB2","k":"B","r":0.4,"y":0.55},{"p":"e","c":"eB2","k":"B","r":0.45,"y":0.52},{"p":"e","c":"eB2","k":"B","r":0.5,"y":0.58},{"p":"e","c":"eB2","k":"B","r":0.55,"y":0.55},{"p":"e","c":"eB2","k":"B","r":0.6,"y":0.62},{"p":"e","c":"eB2","k":"B","r":0.65,"y":0.57},{"p":"e","c":"eB2","k":"B","r":0.7,"y":0.65},{"p":"e","c":"eB2","k":"B","r":0.75,"y":0.58},{"p":"e","c":"eB2","k":"B","r":0.8,"y":0.62},{"p":"e","c":"eB2","k":"B","r":0.85,"y":0.6},{"p":"e","c":"eB2","k":"B","r":0.9,"y":0.66},{"p":"e","c":"eB2","k":"B","r":0.95,"y":0.58},{"p":"e","c":"eB2","k":"B","r":1,"y":0.63},{"p":"e","c":"eB2","k":"B","r":1.05,"y":0.6},{"p":"e","c":"eB2","k":"B","r":1.1,"y":0.65},{"p":"e","c":"eB2","k":"B","r":1.15,"y":0.57},{"p":"e","c":"eB2","k":"B","r":1.2,"y":0.55},{"p":"e","c":"eB2","k":"B","r":1.25,"y":0.52},{"p":"e","c":"eB2","k":"B","r":1.3,"y":0.5},{"p":"e","c":"eB2","k":"B","r":1.35,"y":0.47},{"p":"e","c":"eB2","k":"B","r":1.4,"y":0.42},{"p":"e","c":"eB2","k":"B","r":1.45,"y":0.4},{"p":"e","c":"eB2","k":"B","r":1.5,"y":0.36},

{"p":"f","c":"fA1","k":"A","r":0,"y":0},{"p":"f","c":"fA1","k":"A","r":0.03,"y":0.5},{"p":"f","c":"fA1","k":"A","r":0.06,"y":2.2},{"p":"f","c":"fA1","k":"A","r":0.09,"y":4.4},{"p":"f","c":"fA1","k":"A","r":0.118,"y":5.44},{"p":"f","c":"fA1","k":"A","r":0.15,"y":5},{"p":"f","c":"fA1","k":"A","r":0.18,"y":4},{"p":"f","c":"fA1","k":"A","r":0.22,"y":2.8},{"p":"f","c":"fA1","k":"A","r":0.26,"y":1.8},{"p":"f","c":"fA1","k":"A","r":0.3,"y":1.2},{"p":"f","c":"fA1","k":"A","r":0.35,"y":0.8},{"p":"f","c":"fA1","k":"A","r":0.4,"y":0.55},{"p":"f","c":"fA1","k":"A","r":0.5,"y":0.38},{"p":"f","c":"fA1","k":"A","r":0.6,"y":0.3},{"p":"f","c":"fA1","k":"A","r":0.7,"y":0.27},{"p":"f","c":"fA1","k":"A","r":0.8,"y":0.26},{"p":"f","c":"fA1","k":"A","r":0.9,"y":0.28},{"p":"f","c":"fA1","k":"A","r":1,"y":0.31},{"p":"f","c":"fA1","k":"A","r":1.1,"y":0.33},{"p":"f","c":"fA1","k":"A","r":1.2,"y":0.32},{"p":"f","c":"fA1","k":"A","r":1.3,"y":0.28},{"p":"f","c":"fA1","k":"A","r":1.4,"y":0.22},{"p":"f","c":"fA1","k":"A","r":1.5,"y":0.18},
{"p":"f","c":"fA2","k":"A","r":0,"y":0},{"p":"f","c":"fA2","k":"A","r":0.03,"y":0.35},{"p":"f","c":"fA2","k":"A","r":0.06,"y":1.5},{"p":"f","c":"fA2","k":"A","r":0.09,"y":3.1},{"p":"f","c":"fA2","k":"A","r":0.13,"y":4.28},{"p":"f","c":"fA2","k":"A","r":0.16,"y":4},{"p":"f","c":"fA2","k":"A","r":0.2,"y":3},{"p":"f","c":"fA2","k":"A","r":0.24,"y":2.1},{"p":"f","c":"fA2","k":"A","r":0.28,"y":1.4},{"p":"f","c":"fA2","k":"A","r":0.32,"y":0.95},{"p":"f","c":"fA2","k":"A","r":0.36,"y":0.65},{"p":"f","c":"fA2","k":"A","r":0.4,"y":0.48},{"p":"f","c":"fA2","k":"A","r":0.5,"y":0.33},{"p":"f","c":"fA2","k":"A","r":0.6,"y":0.28},{"p":"f","c":"fA2","k":"A","r":0.7,"y":0.26},{"p":"f","c":"fA2","k":"A","r":0.8,"y":0.26},{"p":"f","c":"fA2","k":"A","r":0.9,"y":0.28},{"p":"f","c":"fA2","k":"A","r":1,"y":0.3},{"p":"f","c":"fA2","k":"A","r":1.1,"y":0.32},{"p":"f","c":"fA2","k":"A","r":1.2,"y":0.31},{"p":"f","c":"fA2","k":"A","r":1.3,"y":0.27},{"p":"f","c":"fA2","k":"A","r":1.4,"y":0.22},{"p":"f","c":"fA2","k":"A","r":1.5,"y":0.18},
{"p":"f","c":"fA3","k":"A","r":0,"y":0},{"p":"f","c":"fA3","k":"A","r":0.04,"y":0.2},{"p":"f","c":"fA3","k":"A","r":0.08,"y":0.65},{"p":"f","c":"fA3","k":"A","r":0.12,"y":1.2},{"p":"f","c":"fA3","k":"A","r":0.16,"y":1.44},{"p":"f","c":"fA3","k":"A","r":0.2,"y":1.3},{"p":"f","c":"fA3","k":"A","r":0.25,"y":0.95},{"p":"f","c":"fA3","k":"A","r":0.3,"y":0.6},{"p":"f","c":"fA3","k":"A","r":0.35,"y":0.35},{"p":"f","c":"fA3","k":"A","r":0.4,"y":0.18},{"p":"f","c":"fA3","k":"A","r":0.45,"y":0.08},{"p":"f","c":"fA3","k":"A","r":0.5,"y":0.03},{"p":"f","c":"fA3","k":"A","r":0.6,"y":0},
{"p":"f","c":"fB1","k":"B","r":0,"y":0},{"p":"f","c":"fB1","k":"B","r":0.03,"y":0.5},{"p":"f","c":"fB1","k":"B","r":0.06,"y":2.1},{"p":"f","c":"fB1","k":"B","r":0.09,"y":4.3},{"p":"f","c":"fB1","k":"B","r":0.118,"y":5.35},{"p":"f","c":"fB1","k":"B","r":0.15,"y":4.95},{"p":"f","c":"fB1","k":"B","r":0.18,"y":4},{"p":"f","c":"fB1","k":"B","r":0.22,"y":2.9},{"p":"f","c":"fB1","k":"B","r":0.26,"y":1.9},{"p":"f","c":"fB1","k":"B","r":0.3,"y":1.25},{"p":"f","c":"fB1","k":"B","r":0.35,"y":0.8},{"p":"f","c":"fB1","k":"B","r":0.4,"y":0.58},{"p":"f","c":"fB1","k":"B","r":0.5,"y":0.42},{"p":"f","c":"fB1","k":"B","r":0.6,"y":0.36},{"p":"f","c":"fB1","k":"B","r":0.7,"y":0.33},{"p":"f","c":"fB1","k":"B","r":0.8,"y":0.32},{"p":"f","c":"fB1","k":"B","r":0.9,"y":0.34},{"p":"f","c":"fB1","k":"B","r":1,"y":0.37},{"p":"f","c":"fB1","k":"B","r":1.1,"y":0.38},{"p":"f","c":"fB1","k":"B","r":1.2,"y":0.35},{"p":"f","c":"fB1","k":"B","r":1.3,"y":0.3},{"p":"f","c":"fB1","k":"B","r":1.4,"y":0.24},{"p":"f","c":"fB1","k":"B","r":1.5,"y":0.2},
{"p":"f","c":"fB2","k":"B","r":0,"y":0},{"p":"f","c":"fB2","k":"B","r":0.03,"y":0.4},{"p":"f","c":"fB2","k":"B","r":0.06,"y":1.6},{"p":"f","c":"fB2","k":"B","r":0.09,"y":3.2},{"p":"f","c":"fB2","k":"B","r":0.13,"y":4.37},{"p":"f","c":"fB2","k":"B","r":0.16,"y":4.1},{"p":"f","c":"fB2","k":"B","r":0.2,"y":3.1},{"p":"f","c":"fB2","k":"B","r":0.24,"y":2.2},{"p":"f","c":"fB2","k":"B","r":0.28,"y":1.5},{"p":"f","c":"fB2","k":"B","r":0.32,"y":1},{"p":"f","c":"fB2","k":"B","r":0.36,"y":0.7},{"p":"f","c":"fB2","k":"B","r":0.4,"y":0.5},{"p":"f","c":"fB2","k":"B","r":0.5,"y":0.36},{"p":"f","c":"fB2","k":"B","r":0.6,"y":0.31},{"p":"f","c":"fB2","k":"B","r":0.7,"y":0.3},{"p":"f","c":"fB2","k":"B","r":0.8,"y":0.3},{"p":"f","c":"fB2","k":"B","r":0.9,"y":0.32},{"p":"f","c":"fB2","k":"B","r":1,"y":0.35},{"p":"f","c":"fB2","k":"B","r":1.1,"y":0.36},{"p":"f","c":"fB2","k":"B","r":1.2,"y":0.34},{"p":"f","c":"fB2","k":"B","r":1.3,"y":0.29},{"p":"f","c":"fB2","k":"B","r":1.4,"y":0.24},{"p":"f","c":"fB2","k":"B","r":1.5,"y":0.2},
{"p":"f","c":"fB3","k":"B","r":0,"y":0},{"p":"f","c":"fB3","k":"B","r":0.02,"y":0.9},{"p":"f","c":"fB3","k":"B","r":0.05,"y":1},{"p":"f","c":"fB3","k":"B","r":0.08,"y":1.2},{"p":"f","c":"fB3","k":"B","r":0.12,"y":1.6},{"p":"f","c":"fB3","k":"B","r":0.16,"y":1.75},{"p":"f","c":"fB3","k":"B","r":0.2,"y":1.5},{"p":"f","c":"fB3","k":"B","r":0.25,"y":1},{"p":"f","c":"fB3","k":"B","r":0.3,"y":0.6},{"p":"f","c":"fB3","k":"B","r":0.35,"y":0.35},{"p":"f","c":"fB3","k":"B","r":0.4,"y":0.2},{"p":"f","c":"fB3","k":"B","r":0.5,"y":0.08},{"p":"f","c":"fB3","k":"B","r":0.6,"y":0.05},{"p":"f","c":"fB3","k":"B","r":0.8,"y":0.04},{"p":"f","c":"fB3","k":"B","r":1,"y":0.03}
]
},
"concat":[
{"width":216,"height":225,
 "encoding":{"x":{"field":"r","type":"quantitative","scale":{"domain":[0,0.6],"nice":false,"zero":false},"axis":{"values":[0,0.0333,0.0667,0.1,0.1333,0.1667,0.2,0.2333,0.2667,0.3,0.3333,0.3667,0.4,0.4333,0.4667,0.5,0.5333,0.5667,0.6],"labels":false,"title":null}},
   "y":{"field":"y","type":"quantitative","scale":{"domain":[0,13],"nice":false},"axis":{"values":[0,1,2,3,4,5,6,7,8,9,10,11,12],"labelExpr":"datum.value%2==0?format(datum.value,'d'):''","title":null}}},
 "layer":[
 {"data":{"name":"L"},"transform":[{"filter":"datum.p=='a' && datum.k=='n'"}],"mark":{"type":"line","clip":true,"color":"black","strokeWidth":1},"encoding":{"detail":{"field":"c"}}},
 {"data":{"name":"L"},"transform":[{"filter":"datum.p=='a' && datum.k=='t'"}],"mark":{"type":"line","clip":true,"color":"black","strokeWidth":2.8},"encoding":{"detail":{"field":"c"}}},
 {"data":{"values":[{"r":0.136,"y":8.77,"r2":0.213,"y2":7.09},{"r":0.405,"y":2.85,"r2":0.448,"y2":1.54}]},"mark":{"type":"rule","color":"black","strokeWidth":1},"encoding":{"x2":{"field":"r2"},"y2":{"field":"y2"}}},
 {"data":{"values":[{"t":"A particles","r":0.303,"y":11.1},{"t":"T=5.0","r":0.321,"y":8.9},{"t":"t=0.16","r":0.321,"y":5.39},{"t":"t=2.56","r":0.379,"y":3.37},{"t":"a","r":0.536,"y":9.94}]},"mark":{"type":"text","fontSize":29,"font":"Liberation Sans","align":"center","baseline":"alphabetic","color":"black"},"encoding":{"text":{"field":"t"}}}
]},
{"width":216,"height":225,
 "encoding":{"x":{"field":"r","type":"quantitative","scale":{"domain":[0,1.5],"nice":false,"zero":false},"axis":{"values":[0,0.1,0.2,0.3,0.4,0.5,0.6,0.7,0.8,0.9,1,1.1,1.2,1.3,1.4,1.5],"labels":false,"title":null}},
   "y":{"field":"y","type":"quantitative","scale":{"domain":[0,12],"nice":false},"axis":{"values":[0,1,2,3,4,5,6,7,8,9,10,11,12],"labelExpr":"datum.value%2==0?format(datum.value,'d'):''","title":null}}},
 "layer":[
 {"data":{"name":"R"},"transform":[{"filter":"datum.p=='d' && datum.k=='A'"}],"mark":{"type":"line","color":"#d0d0d0","strokeWidth":5.5},"encoding":{"detail":{"field":"c"}}},
 {"data":{"name":"R"},"transform":[{"filter":"datum.p=='d' && datum.k=='B'"}],"mark":{"type":"line","color":"black","strokeWidth":1.2,"strokeDash":[3,2]},"encoding":{"detail":{"field":"c"}}},
 {"data":{"values":[{"r":0,"y":7.15,"r2":0.25}]},"mark":{"type":"rule","color":"#d0d0d0","strokeWidth":5.5},"encoding":{"x2":{"field":"r2"}}},
 {"data":{"values":[{"r":0,"y":5.2,"r2":0.24}]},"mark":{"type":"rule","color":"black","strokeWidth":1.2,"strokeDash":[3,2]},"encoding":{"x2":{"field":"r2"}}},
 {"data":{"values":[{"t":"A particles","r":0.37,"y":7.15},{"t":"B particles","r":0.37,"y":5.2}]},"mark":{"type":"text","fontSize":29,"font":"Liberation Sans","align":"left","baseline":"middle","color":"black"},"encoding":{"text":{"field":"t"}}},
 {"data":{"values":[{"t":"d","r":1.32,"y":9.33}]},"mark":{"type":"text","fontSize":29,"font":"Liberation Sans","align":"center","baseline":"alphabetic","color":"black"},"encoding":{"text":{"field":"t"}}}
]},
{"width":216,"height":225,
 "encoding":{"x":{"field":"r","type":"quantitative","scale":{"domain":[0,0.6],"nice":false,"zero":false},"axis":{"values":[0,0.0333,0.0667,0.1,0.1333,0.1667,0.2,0.2333,0.2667,0.3,0.3333,0.3667,0.4,0.4333,0.4667,0.5,0.5333,0.5667,0.6],"labels":false,"title":null}},
   "y":{"field":"y","type":"quantitative","scale":{"domain":[0,5],"nice":false},"axis":{"values":[0,0.5,1,1.5,2,2.5,3,3.5,4,4.5],"labelExpr":"datum.value%1==0?format(datum.value,'d'):''","title":"4πr²Gₛ(r,t)","titleFont":"Liberation Serif","titleFontSize":34,"titlePadding":38}}},
 "layer":[
 {"data":{"name":"L"},"transform":[{"filter":"datum.p=='b' && datum.k=='n'"}],"mark":{"type":"line","clip":true,"color":"black","strokeWidth":1},"encoding":{"detail":{"field":"c"}}},
 {"data":{"name":"L"},"transform":[{"filter":"datum.p=='b' && datum.k=='m'"}],"mark":{"type":"line","clip":true,"color":"black","strokeWidth":1.8},"encoding":{"detail":{"field":"c"}}},
 {"data":{"name":"L"},"transform":[{"filter":"datum.p=='b' && datum.k=='t'"}],"mark":{"type":"line","clip":true,"color":"black","strokeWidth":2.8},"encoding":{"detail":{"field":"c"}}},
 {"data":{"values":[{"r":0.226,"y":3.84,"r2":0.323,"y2":3.31},{"r":0.502,"y":1.27,"r2":0.483,"y2":0.83}]},"mark":{"type":"rule","color":"black","strokeWidth":1},"encoding":{"x2":{"field":"r2"},"y2":{"field":"y2"}}},
 {"data":{"values":[{"t":"T=0.48","r":0.379,"y":4.16},{"t":"b","r":0.533,"y":3.57},{"t":"t=2.56","r":0.416,"y":2.61},{"t":"t=1064","r":0.5,"y":1.61}]},"mark":{"type":"text","fontSize":29,"font":"Liberation Sans","align":"center","baseline":"alphabetic","color":"black"},"encoding":{"text":{"field":"t"}}}
]},
{"width":216,"height":225,
 "encoding":{"x":{"field":"r","type":"quantitative","scale":{"domain":[0,1.5],"nice":false,"zero":false},"axis":{"values":[0,0.1,0.2,0.3,0.4,0.5,0.6,0.7,0.8,0.9,1,1.1,1.2,1.3,1.4,1.5],"labels":false,"title":null}},
   "y":{"field":"y","type":"quantitative","scale":{"domain":[0,5],"nice":false},"axis":{"values":[0,0.5,1,1.5,2,2.5,3,3.5,4,4.5],"labelExpr":"datum.value%1==0?format(datum.value,'d'):''","title":null}}},
 "layer":[
 {"data":{"name":"R"},"transform":[{"filter":"datum.p=='e' && datum.k=='A'"}],"mark":{"type":"line","color":"#d0d0d0","strokeWidth":5.5},"encoding":{"detail":{"field":"c"}}},
 {"data":{"name":"R"},"transform":[{"filter":"datum.p=='e' && datum.k=='B'"}],"mark":{"type":"line","color":"black","strokeWidth":1.2,"strokeDash":[3,2]},"encoding":{"detail":{"field":"c"}}},
 {"data":{"values":[{"t":"e","r":1.26,"y":4.24}]},"mark":{"type":"text","fontSize":29,"font":"Liberation Sans","align":"center","baseline":"alphabetic","color":"black"},"encoding":{"text":{"field":"t"}}}
]},
{"width":216,"height":225,
 "encoding":{"x":{"field":"r","type":"quantitative","scale":{"domain":[0,0.6],"nice":false,"zero":false},"axis":{"values":[0,0.0333,0.0667,0.1,0.1333,0.1667,0.2,0.2333,0.2667,0.3,0.3333,0.3667,0.4,0.4333,0.4667,0.5,0.5333,0.5667,0.6],"labelExpr":"abs(datum.value*10-round(datum.value*10))<0.001?format(datum.value,'.1~f'):''","title":"r (σ)","titlePadding":8}},
   "y":{"field":"y","type":"quantitative","scale":{"domain":[0,8],"nice":false},"axis":{"values":[0,0.5,1,1.5,2,2.5,3,3.5,4,4.5,5,5.5,6,6.5,7,7.5],"labelExpr":"datum.value%1==0?format(datum.value,'d'):''","title":null}}},
 "layer":[
 {"data":{"name":"L"},"transform":[{"filter":"datum.p=='c' && datum.k=='n'"}],"mark":{"type":"line","clip":true,"color":"black","strokeWidth":1},"encoding":{"detail":{"field":"c"}}},
 {"data":{"name":"L"},"transform":[{"filter":"datum.p=='c' && datum.k=='t'"}],"mark":{"type":"line","clip":true,"color":"black","strokeWidth":2.8},"encoding":{"detail":{"field":"c"}}},
 {"data":{"values":[{"r":0.18,"y":4.97,"r2":0.243,"y2":4.97},{"r":0.3,"y":3.52,"r2":0.281,"y2":2.43},{"r":0.456,"y":1.27,"r2":0.445,"y2":0.74}]},"mark":{"type":"rule","color":"black","strokeWidth":1},"encoding":{"x2":{"field":"r2"},"y2":{"field":"y2"}}},
 {"data":{"values":[{"t":"T=0.37","r":0.374,"y":6.6},{"t":"c","r":0.545,"y":5.89},{"t":"t=2.56","r":0.382,"y":4.68},{"t":"t=82","r":0.43,"y":3.4},{"t":"t=34000","r":0.446,"y":1.56}]},"mark":{"type":"text","fontSize":29,"font":"Liberation Sans","align":"center","baseline":"alphabetic","color":"black"},"encoding":{"text":{"field":"t"}}}
]},
{"width":216,"height":225,
 "encoding":{"x":{"field":"r","type":"quantitative","scale":{"domain":[0,1.5],"nice":false,"zero":false},"axis":{"values":[0,0.1,0.2,0.3,0.4,0.5,0.6,0.7,0.8,0.9,1,1.1,1.2,1.3,1.4,1.5],"labelExpr":"abs(datum.value*2-round(datum.value*2))<0.001?format(datum.value,'.1~f'):''","labelAlign":{"condition":{"test":"datum.value>1.45","value":"right"},"value":"center"},"labelOffset":{"condition":{"test":"datum.value>1.45","value":4},"value":0},"title":"r (σ)","titlePadding":8}},
   "y":{"field":"y","type":"quantitative","scale":{"domain":[0,6],"nice":false},"axis":{"values":[0,0.5,1,1.5,2,2.5,3,3.5,4,4.5,5,5.5],"labelExpr":"datum.value%1==0?format(datum.value,'d'):''","title":null}}},
 "layer":[
 {"data":{"name":"R"},"transform":[{"filter":"datum.p=='f' && datum.k=='A'"}],"mark":{"type":"line","color":"#d0d0d0","strokeWidth":5.5},"encoding":{"detail":{"field":"c"}}},
 {"data":{"name":"R"},"transform":[{"filter":"datum.p=='f' && datum.k=='B'"}],"mark":{"type":"line","color":"black","strokeWidth":1.2,"strokeDash":[3,2]},"encoding":{"detail":{"field":"c"}}},
 {"data":{"values":[{"t":"f","r":1.29,"y":4.53}]},"mark":{"type":"text","fontSize":29,"font":"Liberation Sans","align":"center","baseline":"alphabetic","color":"black"},"encoding":{"text":{"field":"t"}}}
]}
]
}
